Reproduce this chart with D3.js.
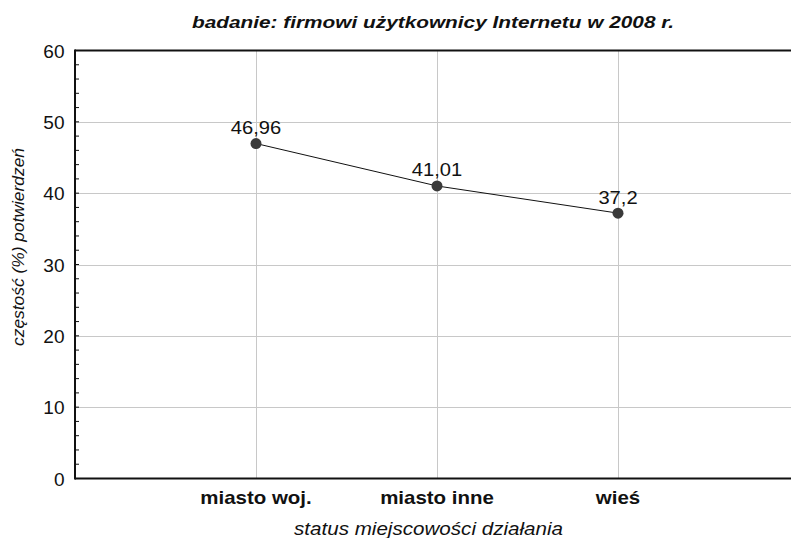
<!DOCTYPE html>
<html><head><meta charset="utf-8">
<script src="https://cdn.jsdelivr.net/npm/d3@7"></script>
<style>body{margin:0;background:#fff}svg{display:block}</style>
</head><body>
<svg id="c" width="791" height="538"></svg>
<script>
const categories = ["miasto woj.", "miasto inne", "wieś"];
const values = [46.96, 41.01, 37.2];
const valueLabels = ["46,96", "41,01", "37,2"];
const yTicks = [0, 10, 20, 30, 40, 50, 60];
const title = "badanie: firmowi użytkownicy Internetu w 2008 r.";
const xTitle = "status miejscowości działania";
const yTitle = "częstość (%) potwierdzeń";

const W = 791, H = 538;
const L = 75, R = 791, T = 50.5, B = 478.5;
const font = "'Liberation Sans', Arial, sans-serif";
const svg = d3.select("#c");

const x = d3.scalePoint().domain(categories).range([L, 799]).padding(1);
const y = d3.scaleLinear().domain([0, 60]).range([B, T]);

// stretched text helper (reference glyphs are slightly wider than Liberation Sans)
function stext(sel, sx) {
  return sel.attr("transform", function () {
    const px = +this.getAttribute("data-x"), py = +this.getAttribute("data-y");
    return `translate(${px},${py}) scale(${sx},1)`;
  });
}

// grid
svg.append("g").selectAll("line").data(yTicks.filter(d => d > 0 && d < 60)).join("line")
  .attr("x1", L).attr("x2", R).attr("y1", d => Math.round(y(d)) + 0.5).attr("y2", d => Math.round(y(d)) + 0.5)
  .attr("stroke", "#c8c8c8").attr("stroke-width", 1);
svg.append("g").selectAll("line").data(categories).join("line")
  .attr("x1", d => Math.round(x(d)) + 0.5).attr("x2", d => Math.round(x(d)) + 0.5)
  .attr("y1", T).attr("y2", B)
  .attr("stroke", "#c8c8c8").attr("stroke-width", 1);

// frame lines
svg.append("line").attr("x1", L).attr("x2", R).attr("y1", T).attr("y2", T).attr("stroke", "#111").attr("stroke-width", 2);
svg.append("line").attr("x1", L).attr("x2", R).attr("y1", B).attr("y2", B).attr("stroke", "#111").attr("stroke-width", 2);
svg.append("line").attr("x1", L).attr("x2", L).attr("y1", T - 1).attr("y2", B + 1).attr("stroke", "#111").attr("stroke-width", 2);

// y axis ticks (inward) & labels
const minor = d3.range(2, 60, 2);
svg.append("g").selectAll("line").data(minor).join("line")
  .attr("x1", L).attr("x2", L + 4).attr("y1", d => y(d)).attr("y2", d => y(d))
  .attr("stroke", "#111").attr("stroke-width", 1);
stext(svg.append("g").selectAll("text").data(yTicks).join("text")
  .attr("data-x", 64.5).attr("data-y", d => y(d) + 7)
  .attr("text-anchor", "end").attr("font-family", font).attr("font-size", 18).attr("fill", "#111")
  .text(d => d), 1.06);

// x category labels
stext(svg.append("g").selectAll("text").data(categories).join("text")
  .attr("data-x", d => x(d)).attr("data-y", 504)
  .attr("text-anchor", "middle").attr("font-family", font).attr("font-size", 17.5).attr("font-weight", "bold").attr("fill", "#111")
  .text(d => d), 1.17);

// line & points
const line = d3.line().x((d, i) => x(categories[i])).y(d => y(d));
svg.append("path").datum(values).attr("d", line).attr("fill", "none").attr("stroke", "#111").attr("stroke-width", 1);
svg.append("g").selectAll("circle").data(values).join("circle")
  .attr("cx", (d, i) => x(categories[i])).attr("cy", d => y(d)).attr("r", 5.5)
  .attr("fill", "#3a3a3a");
stext(svg.append("g").selectAll("text").data(values).join("text")
  .attr("data-x", (d, i) => x(categories[i])).attr("data-y", d => y(d) - 9.5)
  .attr("text-anchor", "middle").attr("font-family", font).attr("font-size", 18).attr("fill", "#111")
  .text((d, i) => valueLabels[i]), 1.12);

// titles
svg.append("text").attr("x", 433).attr("y", 28).attr("text-anchor", "middle")
  .attr("font-family", font).attr("font-size", 17).attr("font-weight", "bold").attr("font-style", "italic").attr("fill", "#111")
  .attr("textLength", 482).attr("lengthAdjust", "spacingAndGlyphs")
  .text(title);
svg.append("text").attr("x", 428.5).attr("y", 534.5).attr("text-anchor", "middle")
  .attr("font-family", font).attr("font-size", 19).attr("font-style", "italic").attr("fill", "#111")
  .attr("textLength", 269).attr("lengthAdjust", "spacingAndGlyphs")
  .text(xTitle);
svg.append("text").attr("transform", "translate(24,247) rotate(-90)").attr("text-anchor", "middle")
  .attr("font-family", font).attr("font-size", 16).attr("font-style", "italic").attr("fill", "#111")
  .attr("textLength", 198).attr("lengthAdjust", "spacingAndGlyphs")
  .text(yTitle);
</script>
</body></html>
